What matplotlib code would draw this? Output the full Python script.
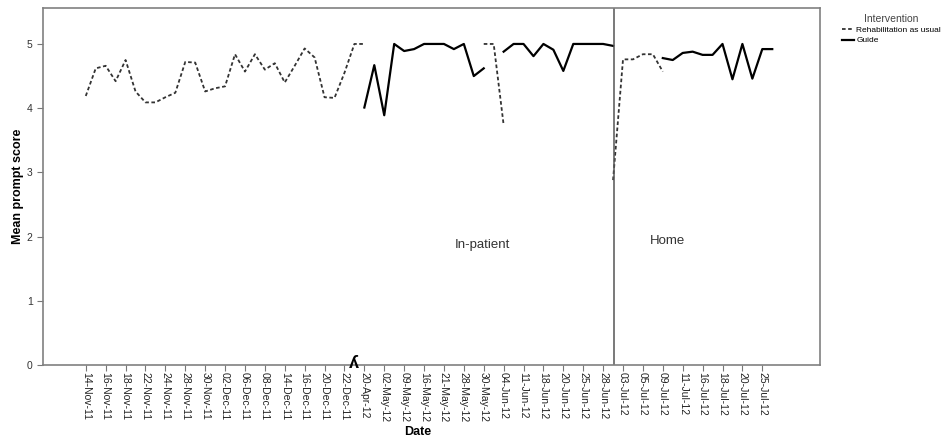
import matplotlib
matplotlib.use("Agg")
from matplotlib import pyplot as plt
import numpy as np

nan = np.nan

# one category per session, every other one labelled
tick_labels = ['14-Nov-11', '16-Nov-11', '18-Nov-11', '22-Nov-11', '24-Nov-11',
               '28-Nov-11', '30-Nov-11', '02-Dec-11', '06-Dec-11', '08-Dec-11',
               '14-Dec-11', '16-Dec-11', '20-Dec-11', '22-Dec-11', '20-Apr-12',
               '02-May-12', '09-May-12', '16-May-12', '21-May-12', '28-May-12',
               '30-May-12', '04-Jun-12', '11-Jun-12', '18-Jun-12', '20-Jun-12',
               '25-Jun-12', '28-Jun-12', '03-Jul-12', '05-Jul-12', '09-Jul-12',
               '11-Jul-12', '16-Jul-12', '18-Jul-12', '20-Jul-12', '25-Jul-12']

rehab = [4.19, 4.62, 4.66, 4.42, 4.75, 4.26, 4.09, 4.09, 4.17, 4.24,
         4.72, 4.71, 4.26, 4.31, 4.34, 4.84, 4.57, 4.84, 4.60, 4.70,
         4.40, 4.66, 4.93, 4.79, 4.17, 4.16, 4.55, 5.00, 5.00, nan,
         nan, nan, nan, nan, nan, nan, nan, nan, nan, nan,
         5.00, 5.00, 3.74, nan, nan, nan, nan, nan, nan, nan,
         nan, nan, nan, 2.88, 4.76, 4.76, 4.84, 4.84, 4.57, nan,
         nan, nan, nan, nan, nan, nan, nan, nan, nan, nan]

guide = [nan, nan, nan, nan, nan, nan, nan, nan, nan, nan,
         nan, nan, nan, nan, nan, nan, nan, nan, nan, nan,
         nan, nan, nan, nan, nan, nan, nan, nan, 4.01, 4.67,
         3.89, 5.00, 4.89, 4.92, 5.00, 5.00, 5.00, 4.92, 5.00, 4.50,
         4.62, nan, 4.88, 5.00, 5.00, 4.81, 5.00, 4.91, 4.58, 5.00,
         5.00, 5.00, 5.00, 4.97, nan, nan, nan, nan, 4.78, 4.75,
         4.86, 4.88, 4.83, 4.83, 5.00, 4.45, 5.00, 4.46, 4.92, 4.92]

phase_change = 53.1

plt.rcParams['font.family'] = ['Liberation Sans', 'DejaVu Sans']

x = np.arange(len(rehab))

fig = plt.figure(figsize=(9.45, 4.41), dpi=100)
ax = fig.add_axes([43/945, 1-365/441, (820-43)/945, (365-8)/441])

l1, = ax.plot(x, rehab, c='#333333', lw=1.3, ls=(0, (2, 1.4)), label='Rehabilitation as usual')
l2, = ax.plot(x, guide, c='black', lw=1.6, label='Guide')
ax.axvline(phase_change, c='#555555', lw=1.1)

ax.set_xlim(-4.3, 73.8)
ax.set_ylim(0, 5.56)
ax.set_yticks(range(6))
ax.set_xticks(x[::2])
ax.set_xticklabels(tick_labels, rotation=-90, fontsize=7.5, color='#222222')
ax.tick_params(axis='y', labelsize=7.5, labelcolor='#333333', color='#777777', length=4)
ax.tick_params(axis='x', color='#777777', length=4, pad=1)
for s in ax.spines.values():
    s.set_color('#808080')
    s.set_linewidth(1.2)

ax.set_ylabel('Mean prompt score', fontsize=9, fontweight='bold')
ax.yaxis.set_label_coords((18-43)/777, 0.5)
ax.yaxis.label.set_va('center')
ax.set_xlabel('Date', fontsize=9, fontweight='bold')
ax.xaxis.set_label_coords((418-43)/777, (365-432)/357)
ax.xaxis.label.set_va('center')

ax.text(39.9, 1.87, 'In-patient', fontsize=9.5, color='#333333', ha='center', va='center')
ax.text(58.5, 1.93, 'Home', fontsize=9.5, color='#333333', ha='center', va='center')

# axis break mark
ax.text(26.9, 0.02, '\u028e', fontsize=13, fontweight='bold', ha='center', va='center', clip_on=False)

leg = fig.legend(handles=[l1, l2], loc='upper left', bbox_to_anchor=(836/945, 1-8/441),
                 frameon=False, fontsize=6.0, title='Intervention', title_fontsize=7.5,
                 handlelength=1.5, handletextpad=0.25, labelspacing=0.3, borderpad=0.2)
leg.get_title().set_color('#444444')

plt.savefig('out.png', dpi=100)
